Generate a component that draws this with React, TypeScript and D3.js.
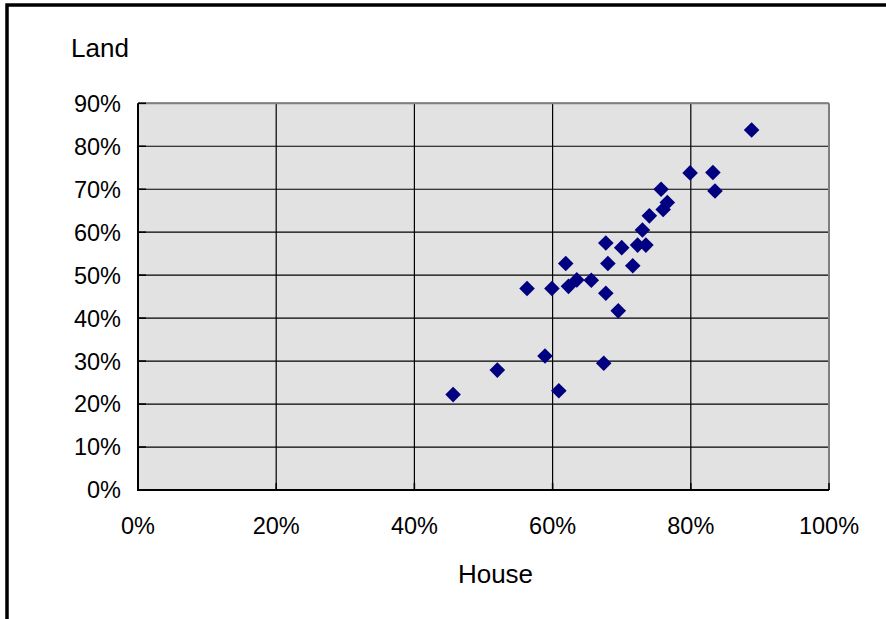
import React from "react";
import * as d3 from "d3";

const houseShare = [45.6, 52.0, 58.9, 60.9, 67.4, 56.3, 59.9, 61.9, 62.3, 63.5, 65.6, 67.7, 68.0, 67.7, 69.5, 70.0, 71.6, 72.3, 73.5, 73.0, 74.0, 75.7, 76.0, 76.6, 79.9, 83.2, 83.5, 88.8];
const landShare = [22.2, 27.9, 31.2, 23.1, 29.5, 46.9, 46.9, 52.7, 47.4, 48.9, 48.8, 57.5, 52.7, 45.8, 41.7, 56.4, 52.2, 57.0, 57.0, 60.5, 63.8, 70.0, 65.3, 66.9, 73.8, 73.9, 69.6, 83.8];
const xTicks = [0, 20, 40, 60, 80, 100];
const yTicks = [0, 10, 20, 30, 40, 50, 60, 70, 80, 90];
const xTitle = "House";
const yTitle = "Land";

export default function App() {
  const W = 886, H = 619;
  const left = 138, right = 829, top = 103.3, bottom = 490;
  const x = d3.scaleLinear().domain([0, 100]).range([left, right]);
  const y = d3.scaleLinear().domain([0, 90]).range([bottom, top]);
  const font = "'Liberation Sans', Arial, sans-serif";
  const fs = 23.5;
  const ft = 26;
  const diamond = d3.symbol().type(d3.symbolDiamond2).size(155)();
  const pts = houseShare.map((h, i) => ({ h, l: landShare[i] }));
  return (
    <div style={{ position: "absolute", left: 0, top: 0 }}>
      <svg width={W} height={H} style={{ display: "block" }}>
        <rect x={0} y={0} width={W} height={H} fill="#fff" />
        <rect x={7} y={5} width={1000} height={1000} fill="none" stroke="#000" strokeWidth={3.5} />
        <rect x={left} y={top} width={right - left} height={bottom - top} fill="#e2e2e2" />
        {yTicks.slice(1).map((t) => (
          <line key={"gy" + t} x1={left} x2={right} y1={y(t)} y2={y(t)} stroke="#000" strokeWidth={1.2} />
        ))}
        {xTicks.slice(1, -1).map((t) => (
          <line key={"gx" + t} x1={x(t)} x2={x(t)} y1={top} y2={bottom} stroke="#000" strokeWidth={1.2} />
        ))}
        <line x1={left} x2={right} y1={top} y2={top} stroke="#808080" strokeWidth={2} />
        <line x1={right} x2={right} y1={top} y2={bottom} stroke="#808080" strokeWidth={2} />
        <line x1={left} x2={left} y1={top} y2={bottom + 1} stroke="#000" strokeWidth={2} />
        <line x1={left} x2={right} y1={bottom} y2={bottom} stroke="#000" strokeWidth={2} />
        {yTicks.map((t) => (
          <line key={"ty" + t} x1={left} x2={left + 8} y1={y(t)} y2={y(t)} stroke="#000" strokeWidth={1.5} />
        ))}
        {xTicks.map((t) => (
          <line key={"tx" + t} x1={x(t)} x2={x(t)} y1={bottom} y2={bottom - 7} stroke="#000" strokeWidth={1.5} />
        ))}
        {yTicks.map((t) => (
          <text key={"ly" + t} x={121} y={y(t) + 8.4} textAnchor="end" fontFamily={font} fontSize={fs} fill="#000">
            {t}%
          </text>
        ))}
        {xTicks.map((t) => (
          <text key={"lx" + t} x={x(t)} y={534.3} textAnchor="middle" fontFamily={font} fontSize={fs} fill="#000">
            {t}%
          </text>
        ))}
        <text x={495.5} y={583.3} textAnchor="middle" fontFamily={font} fontSize={ft} fill="#000">{xTitle}</text>
        <text x={71} y={57.3} fontFamily={font} fontSize={ft} fill="#000">{yTitle}</text>
        {pts.map((p, i) => (
          <path key={i} d={diamond} transform={`translate(${x(p.h)},${y(p.l)})`} fill="#000080" />
        ))}
      </svg>
    </div>
  );
}
